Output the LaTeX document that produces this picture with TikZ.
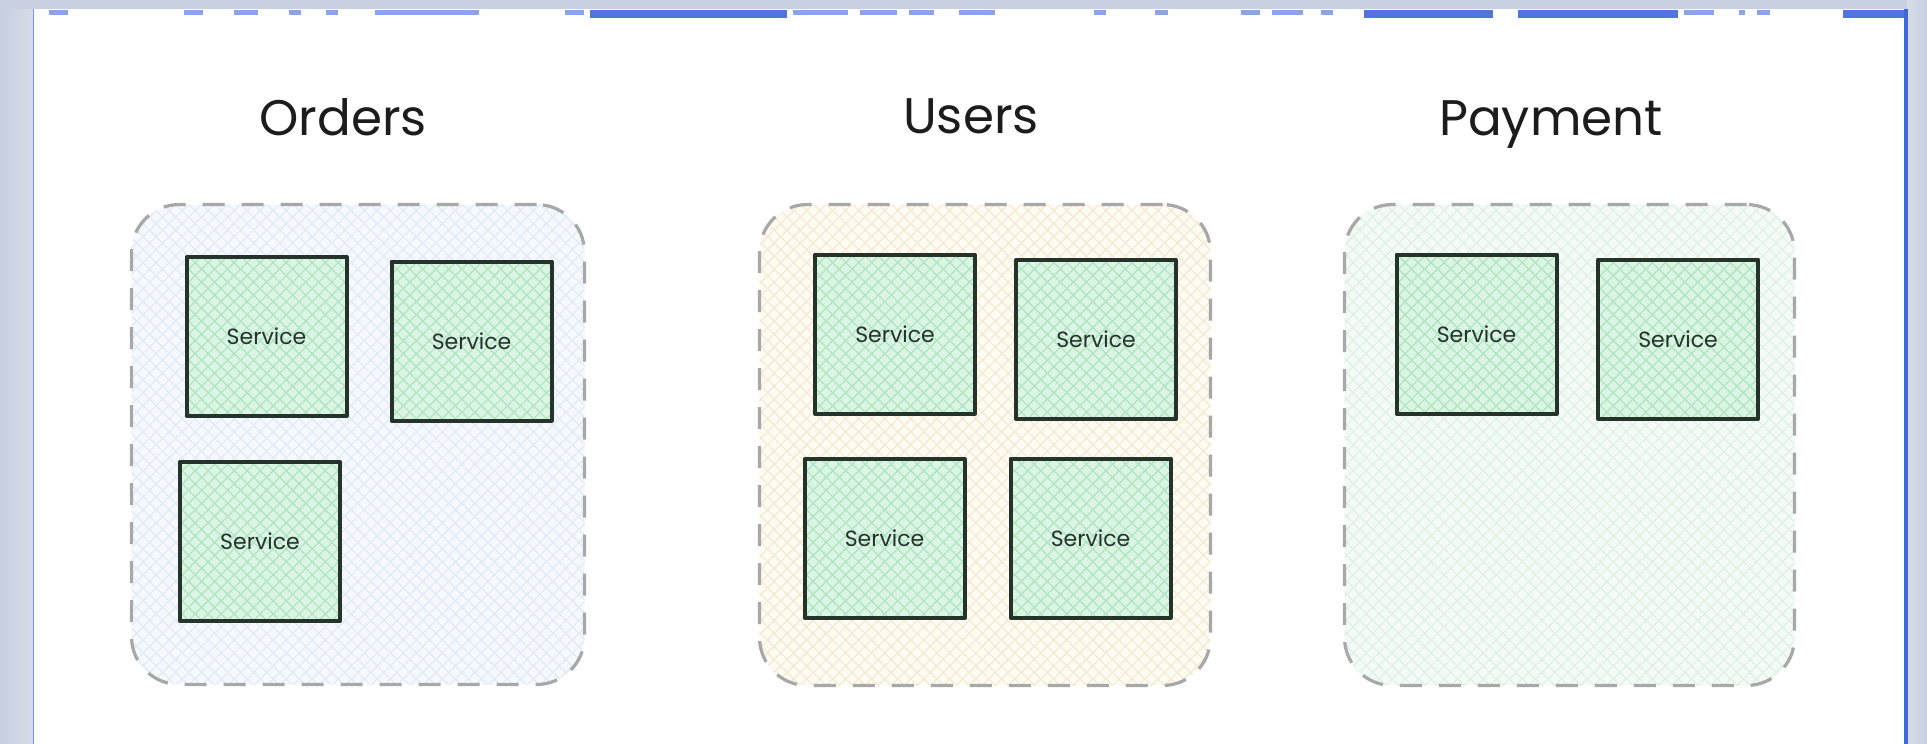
\documentclass[tikz,border=0pt]{standalone}
\usepackage{fontspec}
\setmainfont{Poppins}
\usetikzlibrary{patterns.meta}

\definecolor{frame}{HTML}{C8D0E1}
\definecolor{frameedge}{HTML}{D6DBE7}
\definecolor{rim}{HTML}{3F66DA}
\definecolor{ink}{HTML}{1C1C1C}
\definecolor{svcink}{HTML}{26332A}
\definecolor{dashgrey}{HTML}{A8A8A8}
\definecolor{svcfill}{HTML}{DAF5E4}
\definecolor{svchatch}{HTML}{B0E3C0}
\definecolor{ordfill}{HTML}{F5F9FD}
\definecolor{ordhatch}{HTML}{E2EAF5}
\definecolor{usrfill}{HTML}{FEFBF3}
\definecolor{usrhatch}{HTML}{F3EAD4}
\definecolor{payfill}{HTML}{F4FBF6}
\definecolor{payhatch}{HTML}{DFF1E4}

\begin{document}
\begin{tikzpicture}[x=0.5pt,y=-0.5pt,
  hatch/.style={preaction={pattern={Lines[angle=45,distance=4.6pt,line width=0.6pt]},pattern color=#1},
                preaction={pattern={Lines[angle=-45,distance=4.6pt,line width=0.6pt]},pattern color=#1}},
  grp/.style 2 args={rectangle, rounded corners=24pt, inner sep=0pt,
    preaction={fill=#1}, hatch=#2,
    draw=dashgrey, line width=1.6pt, dash pattern=on 11pt off 8.5pt},
  svc/.style={rectangle, inner sep=0pt, minimum width=80pt, minimum height=79.5pt,
    preaction={fill=svcfill}, hatch=svchatch,
    draw=svcink, line width=2pt, line join=round,
    font=\fontsize{11}{13}\selectfont, text=svcink},
  title/.style={anchor=base, font=\fontsize{25}{28}\selectfont, text=ink},
  tick/.style={fill=rim, opacity=0.6},
  bigtick/.style={fill=rim, opacity=0.9}
]
\useasboundingbox (0,0) rectangle (1927,744);

% window frame around the canvas
\shade[left color=frame, right color=frameedge] (0,0) rectangle (33,744);
\fill[frame] (0,0) rectangle (1927,9);
\shade[left color=frameedge, right color=frame] (1907,0) rectangle (1927,744);
\fill[white] (33,9) rectangle (1907,744);
\draw[rim!70, line width=0.6pt] (33.5,9) -- (33.5,744);
\draw[rim, line width=1.6pt] (1906,9) -- (1906,744);

% clipped toolbar text along the top edge
\foreach \a/\b in {49/68,184/203,234/258,289/301,326/338,375/479,565/584,
                   793/848,860/897,909/934,959/995,1094/1106,1155/1168,1241/1260,
                   1272/1303,1321/1333,1684/1714,1739/1745,1757/1770}
  \fill[tick] (\a,10) rectangle (\b,15);
\foreach \a/\b in {590/787,1364/1493,1518/1678,1843/1905}
  \fill[bigtick] (\a,10) rectangle (\b,18);

% bounded contexts
\node[grp={ordfill}{ordhatch}, minimum width=226.5pt, minimum height=240pt] (orders)  at (358,444.5) {};
\node[grp={usrfill}{usrhatch}, minimum width=225.5pt, minimum height=240.5pt] (users)   at (985,445) {};
\node[grp={payfill}{payhatch}, minimum width=225pt, minimum height=240.5pt] (payment) at (1569.5,445) {};

% context titles
\node[title] (tOrders)  at (343,135) {Orders};
\node[title] (tUsers)   at (971,133) {Users};
\node[title] (tPayment) at (1551,135) {Payment};

% services in Orders
\node[svc] (o1) at (266.5,336.5) {Service};
\node[svc] (o2) at (471.5,341)   {Service};
\node[svc] (o3) at (260,541.5)   {Service};

% services in Users
\node[svc] (u1) at (895,334)     {Service};
\node[svc] (u2) at (1096,339.5)  {Service};
\node[svc] (u3) at (884.5,538.5) {Service};
\node[svc] (u4) at (1090.5,538)  {Service};

% services in Payment
\node[svc] (p1) at (1476.5,334)  {Service};
\node[svc] (p2) at (1678,339)    {Service};
\end{tikzpicture}
\end{document}
